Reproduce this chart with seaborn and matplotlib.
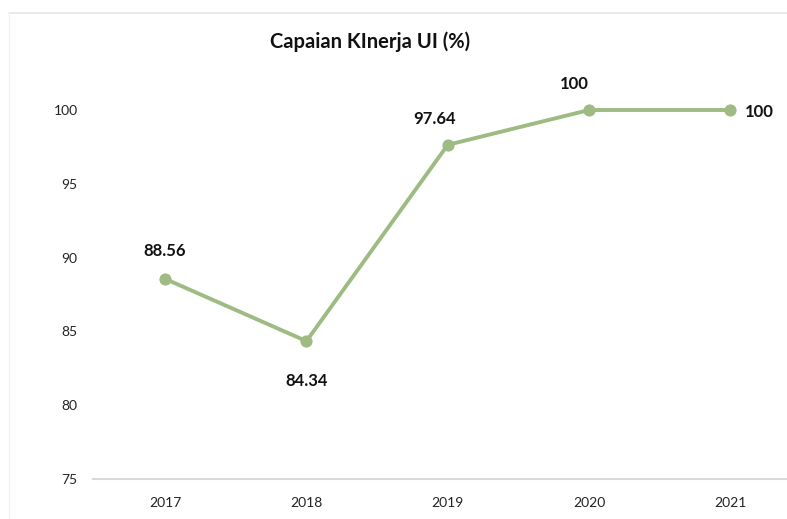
import matplotlib
matplotlib.use("Agg")
import matplotlib.pyplot as plt
import seaborn as sns
import pandas as pd
from matplotlib.lines import Line2D

years = ["2017", "2018", "2019", "2020", "2021"]
values = [88.56, 84.34, 97.64, 100, 100]
value_labels = ["88.56", "84.34", "97.64", "100", "100"]
# offsets for data labels in pixels (dx, dy)
label_offsets = [(0, 28), (0, -40), (-13, 26), (-15, 26), (29, -2)]

sns.set_style("white")
plt.rcParams["font.family"] = ["Lato", "DejaVu Sans"]

df = pd.DataFrame({"Tahun": years, "Capaian": values})
df["pos"] = range(len(years))

fig = plt.figure(figsize=(7.87, 5.19), dpi=100)
ax = fig.add_axes([93 / 787, 1 - 479 / 519, 1 - 93 / 787, (479 - 110) / 519])

line_color = "#9dbb82"
sns.lineplot(data=df, x="pos", y="Capaian", ax=ax, color=line_color,
             linewidth=2.8, marker="o", markersize=8,
             markeredgecolor=line_color, markerfacecolor=line_color)
for ln in ax.get_lines():
    ln.set_clip_on(False)

for i, (v, lab, (dx, dy)) in enumerate(zip(values, value_labels, label_offsets)):
    ax.annotate(lab, (i, v), xytext=(dx, dy), textcoords="offset pixels",
                ha="center", va="center", fontsize=12, fontweight="bold",
                color="#111111", annotation_clip=False)

ax.set_xlim(-0.51, 4.4)
ax.set_ylim(75, 100)
ax.set_xticks(range(len(years)))
ax.set_xticklabels(years)
ax.set_yticks([75, 80, 85, 90, 95, 100])
ax.set_xlabel("")
ax.set_ylabel("")

for side in ["top", "right", "left"]:
    ax.spines[side].set_visible(False)
ax.spines["bottom"].set_color("#d9d9d9")
ax.spines["bottom"].set_linewidth(1.5)

ax.tick_params(axis="x", length=0, pad=13, labelsize=10, labelcolor="#222222")
ax.tick_params(axis="y", length=0, pad=11, labelsize=10, labelcolor="#222222")

fig.text(370 / 787, 1 - 42 / 519, "Capaian KInerja UI (%)", ha="center",
         va="center", fontsize=14.5, fontweight="bold", color="#111111")

fig.add_artist(Line2D([9 / 787, 1], [1 - 13 / 519, 1 - 13 / 519],
                      transform=fig.transFigure, color="#e6e6e6", linewidth=1.2))
fig.add_artist(Line2D([9 / 787, 9 / 787], [1 - 13 / 519, 0],
                      transform=fig.transFigure, color="#f2f2f2", linewidth=1.0))

fig.savefig("out.png", dpi=100)
